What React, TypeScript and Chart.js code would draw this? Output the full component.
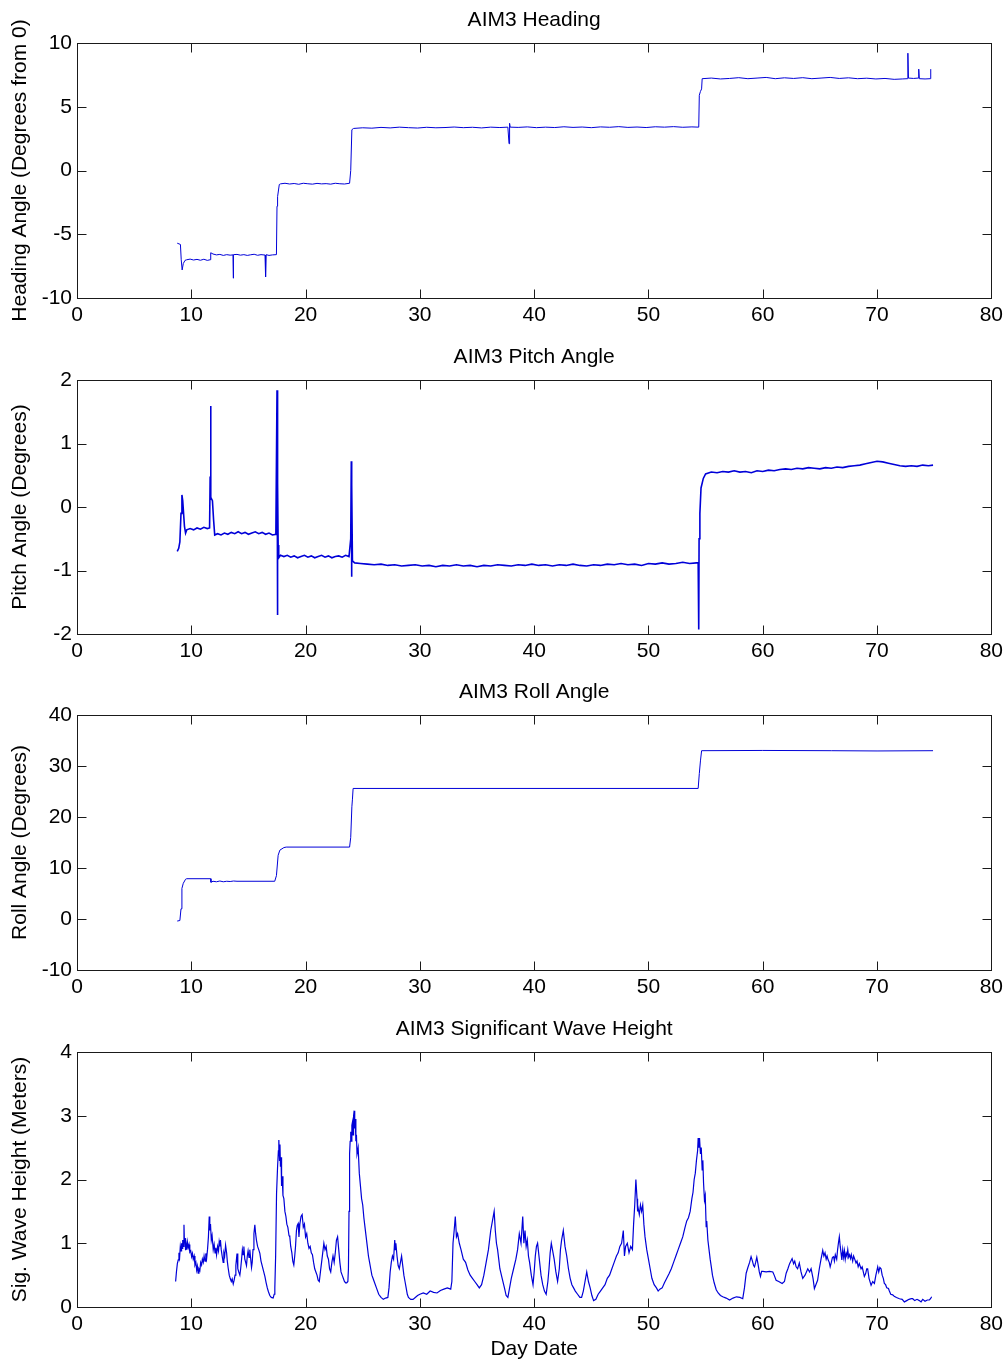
import React, { useEffect, useRef } from "react";
import { Chart, registerables } from "chart.js";

Chart.register(...registerables);

const FONT = "'Liberation Sans', Arial, Helvetica, sans-serif";
const LINE_COLOR = "#0000d8";
const FRAME_COLOR = "#1a1a1a";

// ---------------- Heading ----------------
const headingDays = [
  8.77, 9.05, 9.12, 9.2, 9.3, 9.45, 9.6, 9.9, 10.2, 10.5, 10.8, 11.1, 11.4, 11.65, 11.7, 11.9,
  12.2, 12.5, 12.8, 13.1, 13.4, 13.65, 13.67, 13.7, 14.0, 14.3, 14.6, 14.9, 15.2, 15.5, 15.8,
  16.1, 16.45, 16.5, 16.55, 16.8, 17.1, 17.45, 17.5, 17.55, 17.7, 17.8, 18.2, 18.6, 19.0, 19.4,
  19.8, 20.2, 20.6, 21.0, 21.4, 21.8, 22.2, 22.6, 23.0, 23.4, 23.85, 23.95, 24.05, 24.2, 25.0,
  25.8, 26.6, 27.4, 28.2, 29.0, 29.8, 30.6, 31.4, 32.2, 33.0, 33.8, 34.6, 35.4, 36.2, 37.0,
  37.7, 37.8, 37.85, 37.9, 38.6, 39.4, 40.2, 41.0, 41.8, 42.6, 43.4, 44.2, 45.0, 45.8, 46.6,
  47.4, 48.2, 49.0, 49.8, 50.6, 51.4, 52.2, 53.0, 53.8, 54.4, 54.45, 54.55, 54.65, 54.7, 55.5,
  56.3, 57.1, 57.9, 58.7, 59.5, 60.3, 61.1, 61.9, 62.7, 63.5, 64.3, 65.1, 65.9, 66.7, 67.5,
  68.3, 69.1, 69.9, 70.7, 71.5, 72.2, 72.65, 72.7, 72.75, 73.2, 73.6, 73.65, 73.7, 74.2, 74.65,
  74.7,
];
const headingValues = [
  -5.7, -5.8, -7.0, -7.8, -7.3, -7.05, -7.0, -6.95, -7.02, -6.97, -7.04, -6.96, -7.05, -7.0,
  -6.45, -6.55, -6.62, -6.58, -6.66, -6.6, -6.64, -6.62, -8.45, -6.6, -6.58, -6.64, -6.6, -6.66,
  -6.61, -6.57, -6.65, -6.6, -6.63, -8.35, -6.6, -6.66, -6.62, -6.6, -2.8, -2.05, -1.1, -1.05,
  -1.0, -1.06, -1.02, -1.08, -1.0, -1.04, -1.07, -1.01, -1.05, -1.03, -1.07, -1.0, -1.04, -1.06,
  -1.0, 0.0, 3.2, 3.3, 3.35, 3.32, 3.38, 3.34, 3.4, 3.36, 3.33, 3.39, 3.35, 3.37, 3.41, 3.36,
  3.39, 3.34, 3.4, 3.37, 3.4, 2.1, 3.7, 3.4, 3.38, 3.42, 3.36, 3.4, 3.37, 3.43, 3.38, 3.41, 3.36,
  3.42, 3.39, 3.44, 3.38, 3.41, 3.37, 3.43, 3.4, 3.44, 3.39, 3.42, 3.4, 5.9, 6.2, 6.4, 7.2, 7.25,
  7.18, 7.22, 7.28, 7.2, 7.25, 7.3, 7.2, 7.27, 7.22, 7.28, 7.2, 7.25, 7.3, 7.22, 7.27, 7.2, 7.24,
  7.18, 7.22, 7.15, 7.18, 7.2, 9.2, 7.25, 7.22, 7.25, 7.95, 7.2, 7.18, 7.2, 7.95,
];

// ---------------- Pitch ----------------
const pitchDays = [
  8.77, 8.9, 9.0, 9.1, 9.18, 9.25, 9.4, 9.5, 9.6, 9.9, 10.2, 10.5, 10.8, 11.1, 11.4, 11.6,
  11.65, 11.69, 11.72, 11.85, 11.95, 12.05, 12.3, 12.6, 12.9, 13.2, 13.5, 13.8, 14.1, 14.4,
  14.7, 15.0, 15.3, 15.6, 15.9, 16.2, 16.5, 16.8, 17.1, 17.4, 17.5, 17.52, 17.54, 17.56, 17.58,
  17.6, 17.65, 17.8, 18.1, 18.4, 18.7, 19.0, 19.3, 19.6, 19.9, 20.2, 20.5, 20.8, 21.1, 21.4,
  21.7, 22.0, 22.3, 22.6, 22.9, 23.2, 23.5, 23.8, 23.95, 24.0, 24.02, 24.05, 24.1, 24.3, 24.8,
  25.4, 26.0, 26.6, 27.2, 27.8, 28.4, 29.0, 29.6, 30.2, 30.8, 31.4, 32.0, 32.6, 33.2, 33.8,
  34.4, 35.0, 35.6, 36.2, 36.8, 37.4, 38.0, 38.6, 39.2, 39.8, 40.4, 41.0, 41.6, 42.2, 42.8,
  43.4, 44.0, 44.6, 45.2, 45.8, 46.4, 47.0, 47.6, 48.2, 48.8, 49.4, 50.0, 50.6, 51.2, 51.8,
  52.4, 53.0, 53.6, 54.2, 54.35, 54.4, 54.43, 54.5, 54.6, 54.8, 55.0, 55.5, 56.0, 56.5, 57.0,
  57.5, 58.0, 58.5, 59.0, 59.5, 60.0, 60.5, 61.0, 61.5, 62.0, 62.5, 63.0, 63.5, 64.0, 64.5,
  65.0, 65.5, 66.0, 66.5, 67.0, 67.5, 68.0, 68.5, 69.0, 69.5, 70.0, 70.5, 71.0, 71.5, 72.0,
  72.5, 73.0, 73.5, 74.0, 74.5, 74.9,
];
const pitchValues = [
  -0.7, -0.65, -0.55, -0.1, 0.19, 0.1, -0.3, -0.41, -0.36, -0.34, -0.36, -0.33, -0.35, -0.32,
  -0.34, -0.33, 0.48, 1.59, 0.15, 0.1, -0.2, -0.44, -0.42, -0.44, -0.41, -0.43, -0.4, -0.42,
  -0.39, -0.42, -0.4, -0.43, -0.41, -0.39, -0.42, -0.4, -0.43, -0.41, -0.44, -0.43, 1.84, -1.7,
  0.5, -1.0, 0.38, -0.6, -0.8, -0.76, -0.78, -0.76, -0.79, -0.77, -0.8, -0.78, -0.76, -0.79,
  -0.77, -0.8, -0.78, -0.76, -0.79, -0.77, -0.8, -0.78, -0.77, -0.79, -0.76, -0.78, -0.5, 0.72,
  -1.1, 0.35, -0.85, -0.88, -0.89, -0.9, -0.91, -0.9, -0.92, -0.91, -0.93, -0.92, -0.91, -0.93,
  -0.92, -0.94, -0.92, -0.93, -0.91, -0.93, -0.92, -0.94, -0.92, -0.93, -0.91, -0.92, -0.93,
  -0.91, -0.92, -0.9, -0.92, -0.91, -0.93, -0.91, -0.92, -0.9, -0.92, -0.93, -0.91, -0.92,
  -0.9, -0.91, -0.89, -0.91, -0.9, -0.92, -0.89, -0.9, -0.88, -0.9, -0.89, -0.87, -0.89,
  -0.88, -0.88, -1.93, -0.5, -0.1, 0.3, 0.45, 0.52, 0.55, 0.54, 0.56, 0.55, 0.57, 0.55, 0.56,
  0.54, 0.57, 0.56, 0.58, 0.57, 0.59, 0.6, 0.59, 0.61, 0.6, 0.62, 0.61, 0.6, 0.62, 0.61, 0.63,
  0.62, 0.64, 0.65, 0.66, 0.68, 0.7, 0.72, 0.71, 0.69, 0.67, 0.65, 0.64, 0.65, 0.64, 0.66,
  0.65, 0.66,
];

// ---------------- Roll ----------------
const rollDays = [
  8.77, 9.0, 9.1, 9.18, 9.3, 9.5, 9.6, 11.7, 11.72, 11.9, 12.2, 12.5, 12.8, 13.1, 13.4, 13.7,
  14.0, 17.3, 17.45, 17.6, 17.75, 18.1, 18.3, 23.85, 23.95, 24.05, 24.1, 24.16, 54.35, 54.45,
  54.55, 54.65, 60.0, 66.0, 70.0, 74.9,
];
const rollValues = [
  -0.4, -0.3, 2.0, 6.0, 7.0, 7.8, 7.9, 7.9, 7.2, 7.4, 7.3, 7.45, 7.3, 7.4, 7.35, 7.45, 7.4, 7.4,
  8.5, 12.5, 13.5, 14.0, 14.1, 14.1, 16.0, 22.0, 23.5, 25.6, 25.6, 28.5, 31.0, 33.0, 33.05,
  33.0, 32.95, 33.0,
];

// ---------------- Significant wave height (rows of 10 pairs) ----------------
const waveDays = [
  8.63, 8.7, 8.78, 8.86, 8.92, 8.98, 9.04, 9.1, 9.15, 9.2,
  9.25, 9.3, 9.36, 9.4, 9.45, 9.5, 9.55, 9.6, 9.66, 9.73,
  9.8, 9.87, 9.95, 10.03, 10.1, 10.17, 10.25, 10.32, 10.4, 10.47,
  10.53, 10.6, 10.67, 10.75, 10.82, 10.9, 10.97, 11.05, 11.12, 11.2,
  11.27, 11.34, 11.42, 11.5, 11.57, 11.62, 11.68, 11.75, 11.82, 11.92,
  12.0, 12.08, 12.15, 12.21, 12.3, 12.38, 12.44, 12.5, 12.55, 12.62,
  12.7, 12.79, 12.85, 12.92, 13.0, 13.09, 13.15, 13.22, 13.32, 13.4,
  13.5, 13.58, 13.67, 13.75, 13.83, 13.9, 14.0, 14.07, 14.15, 14.25,
  14.32, 14.4, 14.47, 14.54, 14.6, 14.68, 14.76, 14.83, 14.9, 14.97,
  15.05, 15.12, 15.2, 15.27, 15.33, 15.4, 15.48, 15.56, 15.63, 15.7,
  15.8, 15.9, 16.0, 16.1, 16.2, 16.3, 16.44, 16.55, 16.65, 16.75,
  16.87, 17.0, 17.16, 17.25, 17.31, 17.38, 17.46, 17.55, 17.62, 17.66,
  17.72, 17.76, 17.8, 17.85, 17.9, 17.95, 18.02, 18.1, 18.19, 18.28,
  18.36, 18.45, 18.55, 18.62, 18.7, 18.8, 18.88, 18.97, 19.05, 19.12,
  19.2, 19.27, 19.35, 19.42, 19.5, 19.6, 19.7, 19.8, 19.9, 20.0,
  20.1, 20.2, 20.3, 20.4, 20.5, 20.6, 20.7, 20.8, 20.9, 21.0,
  21.1, 21.2, 21.3, 21.4, 21.5, 21.6, 21.7, 21.8, 21.9, 22.0,
  22.1, 22.2, 22.3, 22.4, 22.5, 22.6, 22.7, 22.8, 22.9, 23.0,
  23.1, 23.2, 23.3, 23.4, 23.5, 23.6, 23.7, 23.75, 23.8, 23.85,
  23.9, 23.95, 24.0, 24.05, 24.1, 24.15, 24.2, 24.25, 24.3, 24.35,
  24.4, 24.45, 24.5, 24.6, 24.7, 24.8, 24.9, 25.0, 25.1, 25.2,
  25.3, 25.4, 25.5, 25.6, 25.7, 25.8, 25.9, 26.0, 26.2, 26.4,
  26.6, 26.8, 27.0, 27.2, 27.3, 27.4, 27.5, 27.6, 27.7, 27.8,
  27.85, 27.9, 28.0, 28.1, 28.2, 28.3, 28.4, 28.5, 28.6, 28.7,
  28.8, 28.9, 29.0, 29.2, 29.4, 29.6, 29.8, 30.0, 30.3, 30.6,
  30.9, 31.2, 31.5, 31.8, 32.1, 32.4, 32.7, 32.8, 32.9, 33.0,
  33.1, 33.2, 33.3, 33.45, 33.6, 33.8, 34.0, 34.2, 34.4, 34.6,
  34.8, 35.0, 35.2, 35.4, 35.6, 35.8, 36.0, 36.1, 36.2, 36.35,
  36.5, 36.6, 36.7, 36.8, 36.9, 37.0, 37.2, 37.4, 37.55, 37.7,
  37.85, 38.0, 38.2, 38.4, 38.55, 38.7, 38.85, 39.0, 39.1, 39.2,
  39.3, 39.4, 39.5, 39.6, 39.75, 39.9, 40.0, 40.1, 40.2, 40.3,
  40.45, 40.6, 40.75, 40.9, 41.05, 41.2, 41.3, 41.4, 41.5, 41.6,
  41.75, 41.9, 42.05, 42.2, 42.3, 42.4, 42.55, 42.7, 42.85, 43.0,
  43.15, 43.3, 43.45, 43.6, 43.8, 44.0, 44.15, 44.3, 44.45, 44.6,
  44.75, 44.9, 45.05, 45.2, 45.4, 45.6, 45.8, 46.0, 46.2, 46.4,
  46.6, 46.8, 47.0, 47.2, 47.35, 47.5, 47.65, 47.8, 47.9, 48.0,
  48.15, 48.3, 48.45, 48.6, 48.7, 48.8, 48.9, 49.0, 49.05, 49.1,
  49.2, 49.3, 49.4, 49.5, 49.6, 49.7, 49.85, 50.0, 50.15, 50.3,
  50.5, 50.7, 50.85, 51.0, 51.2, 51.4, 51.6, 51.8, 52.0, 52.2,
  52.4, 52.6, 52.8, 53.0, 53.2, 53.35, 53.5, 53.65, 53.8, 53.9,
  54.0, 54.1, 54.2, 54.3, 54.35, 54.42, 54.47, 54.55, 54.62, 54.7,
  54.76, 54.82, 54.9, 54.97, 55.05, 55.1, 55.2, 55.3, 55.4, 55.5,
  55.6, 55.75, 55.93, 56.1, 56.3, 56.5, 56.8, 57.1, 57.4, 57.7,
  58.0, 58.25, 58.4, 58.55, 58.7, 58.85, 58.98, 59.1, 59.2, 59.28,
  59.38, 59.48, 59.58, 59.7, 59.8, 59.9, 60.0, 60.3, 60.6, 60.88,
  61.0, 61.17, 61.4, 61.7, 61.9, 62.05, 62.2, 62.35, 62.57, 62.7,
  62.8, 62.92, 63.05, 63.2, 63.35, 63.5, 63.7, 63.94, 64.1, 64.23,
  64.4, 64.52, 64.65, 64.8, 64.95, 65.1, 65.25, 65.35, 65.45, 65.55,
  65.63, 65.72, 65.82, 65.9, 66.0, 66.1, 66.2, 66.27, 66.35, 66.47,
  66.55, 66.62, 66.7, 66.78, 66.85, 66.92, 67.0, 67.08, 67.15, 67.22,
  67.3, 67.37, 67.44, 67.52, 67.6, 67.68, 67.75, 67.87, 67.95, 68.05,
  68.16, 68.25, 68.35, 68.45, 68.6, 68.7, 68.8, 68.89, 69.0, 69.1,
  69.18, 69.3, 69.48, 69.62, 69.77, 69.9, 70.06, 70.15, 70.25, 70.35,
  70.45, 70.55, 70.64, 70.75, 70.85, 71.0, 71.08, 71.2, 71.37, 71.5,
  71.7, 71.96, 72.2, 72.39, 72.6, 72.8, 73.0, 73.12, 73.3, 73.5,
  73.7, 73.85, 74.0, 74.2, 74.4, 74.58, 74.68, 74.78,
];
const waveValues = [
  0.4, 0.55, 0.68, 0.74, 0.85, 0.78, 0.95, 0.88, 1.0, 0.92,
  1.05, 0.95, 1.29, 1.0, 1.08, 0.89, 0.98, 0.9, 1.02, 0.93,
  0.98, 0.86, 0.88, 0.79, 0.84, 0.75, 0.8, 0.66, 0.7, 0.58,
  0.64, 0.53, 0.6, 0.57, 0.7, 0.66, 0.75, 0.7, 0.8, 0.72,
  0.84, 0.76, 0.9, 1.1, 1.42, 1.2, 1.3, 1.05, 1.12, 0.9,
  0.98, 0.85, 0.93, 0.82, 0.95, 0.88, 1.02, 0.95, 1.05, 0.9,
  0.8, 0.7, 0.85, 0.8, 0.97, 0.85, 0.72, 0.62, 0.5, 0.45,
  0.4, 0.44, 0.36, 0.42, 0.5, 0.65, 0.84, 0.6, 0.55, 0.5,
  0.6, 0.75, 0.9, 0.82, 0.95, 0.75, 0.7, 0.65, 0.8, 0.88,
  0.78, 0.9, 0.75, 0.62, 0.7, 0.9, 1.15, 1.29, 1.15, 1.05,
  0.95, 0.9, 0.84, 0.72, 0.65, 0.58, 0.48, 0.38, 0.3, 0.24,
  0.18, 0.15, 0.14, 0.2, 0.3, 0.8, 1.78, 2.2, 2.45, 2.62,
  2.3, 2.55, 2.2, 2.35, 1.9, 2.05, 1.75, 1.7, 1.5, 1.42,
  1.3, 1.25, 1.12, 1.1, 0.95, 0.85, 0.72, 0.66, 0.8, 0.95,
  1.2, 1.28, 1.31, 1.1, 1.3, 1.42, 1.45, 1.25, 1.3, 1.1,
  1.15, 1.0, 0.92, 0.95, 0.85, 0.82, 0.7, 0.6, 0.55, 0.5,
  0.42, 0.4, 0.55, 0.7, 0.85, 1.0, 0.9, 0.95, 0.8, 0.75,
  0.6, 0.55, 0.7, 0.8, 0.7, 0.85, 1.05, 1.1, 0.9, 0.7,
  0.55, 0.5, 0.45, 0.4, 0.38, 0.38, 0.4, 0.6, 1.5, 2.4,
  2.6, 2.75, 2.6, 2.85, 2.9, 2.7, 3.0, 3.08, 2.8, 2.95,
  2.6, 2.7, 2.4, 2.5, 2.1, 1.9, 1.7, 1.6, 1.4, 1.25,
  1.1, 0.95, 0.8, 0.7, 0.6, 0.5, 0.45, 0.4, 0.3, 0.2,
  0.15, 0.12, 0.14, 0.15, 0.3, 0.55, 0.7, 0.8, 0.75, 1.05,
  0.9, 1.0, 0.8, 0.65, 0.6, 0.7, 0.8, 0.65, 0.5, 0.4,
  0.3, 0.2, 0.15, 0.12, 0.12, 0.15, 0.18, 0.2, 0.22, 0.2,
  0.25, 0.23, 0.22, 0.26, 0.28, 0.3, 0.28, 0.4, 1.0, 1.2,
  1.42, 1.1, 1.15, 1.0, 0.9, 0.75, 0.7, 0.58, 0.5, 0.45,
  0.4, 0.35, 0.3, 0.35, 0.5, 0.7, 0.9, 1.05, 1.2, 1.35,
  1.5, 1.2, 1.0, 0.9, 0.75, 0.6, 0.45, 0.3, 0.18, 0.15,
  0.3, 0.45, 0.6, 0.75, 0.9, 1.15, 1.0, 1.42, 1.0, 1.2,
  0.95, 1.05, 0.8, 0.7, 0.5, 0.35, 0.55, 0.8, 0.95, 1.0,
  0.75, 0.5, 0.35, 0.25, 0.2, 0.4, 0.6, 0.85, 1.0, 0.9,
  0.75, 0.55, 0.4, 0.6, 0.9, 1.05, 1.2, 0.95, 0.8, 0.6,
  0.45, 0.35, 0.3, 0.25, 0.2, 0.15, 0.15, 0.25, 0.4, 0.55,
  0.4, 0.3, 0.18, 0.1, 0.12, 0.2, 0.25, 0.3, 0.35, 0.45,
  0.5, 0.6, 0.7, 0.8, 0.85, 0.95, 1.0, 1.2, 0.8, 0.95,
  1.0, 0.85, 0.95, 0.9, 1.3, 1.6, 2.0, 1.7, 1.5, 1.55,
  1.45, 1.6, 1.5, 1.6, 1.3, 1.1, 0.9, 0.75, 0.6, 0.45,
  0.35, 0.3, 0.25, 0.28, 0.3, 0.38, 0.45, 0.52, 0.6, 0.7,
  0.8, 0.9, 1.0, 1.1, 1.25, 1.35, 1.4, 1.5, 1.7, 1.8,
  2.0, 2.1, 2.3, 2.45, 2.65, 2.5, 2.65, 2.4, 2.5, 2.15,
  2.3, 1.95, 1.68, 1.75, 1.26, 1.35, 1.05, 0.9, 0.75, 0.63,
  0.5, 0.38, 0.27, 0.22, 0.18, 0.16, 0.14, 0.11, 0.14, 0.16,
  0.15, 0.13, 0.3, 0.53, 0.62, 0.7, 0.79, 0.72, 0.65, 0.63,
  0.7, 0.78, 0.68, 0.55, 0.48, 0.56, 0.56, 0.55, 0.56, 0.55,
  0.5, 0.42, 0.4, 0.37, 0.4, 0.53, 0.6, 0.68, 0.76, 0.68,
  0.72, 0.63, 0.6, 0.69, 0.55, 0.45, 0.5, 0.6, 0.55, 0.6,
  0.45, 0.29, 0.35, 0.42, 0.6, 0.75, 0.89, 0.8, 0.85, 0.75,
  0.8, 0.74, 0.7, 0.63, 0.7, 0.78, 0.79, 0.72, 0.82, 0.75,
  0.9, 1.0, 1.1, 0.95, 0.85, 0.74, 0.9, 0.78, 0.88, 0.75,
  0.84, 0.8, 0.9, 0.78, 0.82, 0.76, 0.82, 0.72, 0.8, 0.75,
  0.69, 0.72, 0.63, 0.68, 0.6, 0.63, 0.55, 0.48, 0.52, 0.6,
  0.6, 0.45, 0.34, 0.4, 0.37, 0.5, 0.63, 0.55, 0.62, 0.6,
  0.5, 0.45, 0.37, 0.35, 0.3, 0.29, 0.25, 0.2, 0.19, 0.17,
  0.15, 0.13, 0.12, 0.08, 0.1, 0.12, 0.13, 0.13, 0.1, 0.12,
  0.1, 0.08, 0.12, 0.09, 0.11, 0.11, 0.13, 0.16,
];

const xTickStep = 10;
const xMin = 0;
const xMax = 80;

type PanelDef = {
  title: string;
  yLabel: string;
  xLabel?: string;
  days: number[];
  values: number[];
  yMin: number;
  yMax: number;
  yStep: number;
  canvasTop: number;
  canvasHeight: number;
  xAxisHeight: number;
  lineWidth: number;
};

const panels: PanelDef[] = [
  { title: "AIM3 Heading", yLabel: "Heading Angle (Degrees from 0)", days: headingDays, values: headingValues, yMin: -10, yMax: 10, yStep: 5, canvasTop: 0, canvasHeight: 337, xAxisHeight: 39, lineWidth: 1 },
  { title: "AIM3 Pitch Angle", yLabel: "Pitch Angle (Degrees)", days: pitchDays, values: pitchValues, yMin: -2, yMax: 2, yStep: 1, canvasTop: 337, canvasHeight: 337, xAxisHeight: 40, lineWidth: 1.6 },
  { title: "AIM3 Roll Angle", yLabel: "Roll Angle (Degrees)", days: rollDays, values: rollValues, yMin: -10, yMax: 40, yStep: 10, canvasTop: 672, canvasHeight: 337, xAxisHeight: 39, lineWidth: 1 },
  { title: "AIM3 Significant Wave Height", yLabel: "Sig. Wave Height (Meters)", xLabel: "Day Date", days: waveDays, values: waveValues, yMin: 0, yMax: 4, yStep: 1, canvasTop: 1009, canvasHeight: 359, xAxisHeight: 61, lineWidth: 1.2 },
];

const TICK_LEN = 9;

const frameTicksPlugin = {
  id: "frameTicks",
  afterDatasetsDraw(chart: any) {
    const { ctx, chartArea } = chart;
    const left = Math.round(chartArea.left) + 0.5;
    const right = Math.round(chartArea.right) + 0.5;
    const top = Math.round(chartArea.top) + 0.5;
    const bottom = Math.round(chartArea.bottom) + 0.5;
    ctx.save();
    ctx.strokeStyle = FRAME_COLOR;
    ctx.lineWidth = 1;
    ctx.beginPath();
    const xs = chart.scales.x;
    xs.ticks.forEach((t: any) => {
      if (t.value === xs.min || t.value === xs.max) return;
      const px = Math.round(xs.getPixelForValue(t.value)) + 0.5;
      ctx.moveTo(px, bottom);
      ctx.lineTo(px, bottom - TICK_LEN);
      ctx.moveTo(px, top);
      ctx.lineTo(px, top + TICK_LEN);
    });
    const ys = chart.scales.y;
    ys.ticks.forEach((t: any) => {
      if (t.value === ys.min || t.value === ys.max) return;
      const py = Math.round(ys.getPixelForValue(t.value)) + 0.5;
      ctx.moveTo(left, py);
      ctx.lineTo(left + TICK_LEN, py);
      ctx.moveTo(right, py);
      ctx.lineTo(right - TICK_LEN, py);
    });
    ctx.stroke();
    ctx.strokeRect(left, top, right - left, bottom - top);
    ctx.restore();
  },
};

function Panel({ def }: { def: PanelDef }) {
  const ref = useRef<HTMLCanvasElement | null>(null);
  useEffect(() => {
    if (!ref.current) return;
    const n = Math.min(def.days.length, def.values.length);
    const points = def.days.slice(0, n).map((d, i) => ({ x: d, y: def.values[i] }));
    const font = { family: FONT, size: 21, weight: "normal" as const };
    const chart = new Chart(ref.current, {
      type: "line",
      data: {
        datasets: [
          {
            data: points,
            borderColor: LINE_COLOR,
            borderWidth: def.lineWidth,
            pointRadius: 0,
            tension: 0,
            fill: false,
          },
        ],
      },
      options: {
        responsive: false,
        animation: false,
        devicePixelRatio: 1,
        layout: { padding: { left: 0, right: 16, top: 0, bottom: 0 } },
        plugins: {
          legend: { display: false },
          tooltip: { enabled: false },
          title: {
            display: true,
            fullSize: false,
            text: def.title,
            color: "#000",
            font,
            padding: { top: 8, bottom: 9.8 },
          },
        },
        scales: {
          x: {
            type: "linear",
            min: xMin,
            max: xMax,
            grid: { display: false, drawTicks: false },
            border: { display: false },
            ticks: { stepSize: xTickStep, padding: 5, color: "#000", font, maxRotation: 0, autoSkip: false },
            title: def.xLabel
              ? { display: true, text: def.xLabel, color: "#000", font, padding: { top: 0, bottom: 6 } }
              : { display: false },
            afterFit: (s: any) => {
              s.height = def.xAxisHeight;
            },
          },
          y: {
            type: "linear",
            min: def.yMin,
            max: def.yMax,
            grid: { display: false, drawTicks: false },
            border: { display: false },
            ticks: { stepSize: def.yStep, padding: 5, color: "#000", font },
            title: { display: true, text: def.yLabel, color: "#000", font, padding: { top: 8, bottom: 0 } },
            afterFit: (s: any) => {
              s.width = 77;
            },
          },
        },
      },
      plugins: [frameTicksPlugin],
    });
    return () => chart.destroy();
  }, [def]);
  return (
    <canvas
      ref={ref}
      width={1008}
      height={def.canvasHeight}
      style={{ position: "absolute", left: 0, top: def.canvasTop, width: 1008, height: def.canvasHeight }}
    />
  );
}

export default function App() {
  return (
    <div style={{ position: "absolute", left: 0, top: 0, width: 1008, height: 1368, background: "#fff", overflow: "hidden" }}>
      {panels.map((p) => (
        <Panel key={p.title} def={p} />
      ))}
    </div>
  );
}
